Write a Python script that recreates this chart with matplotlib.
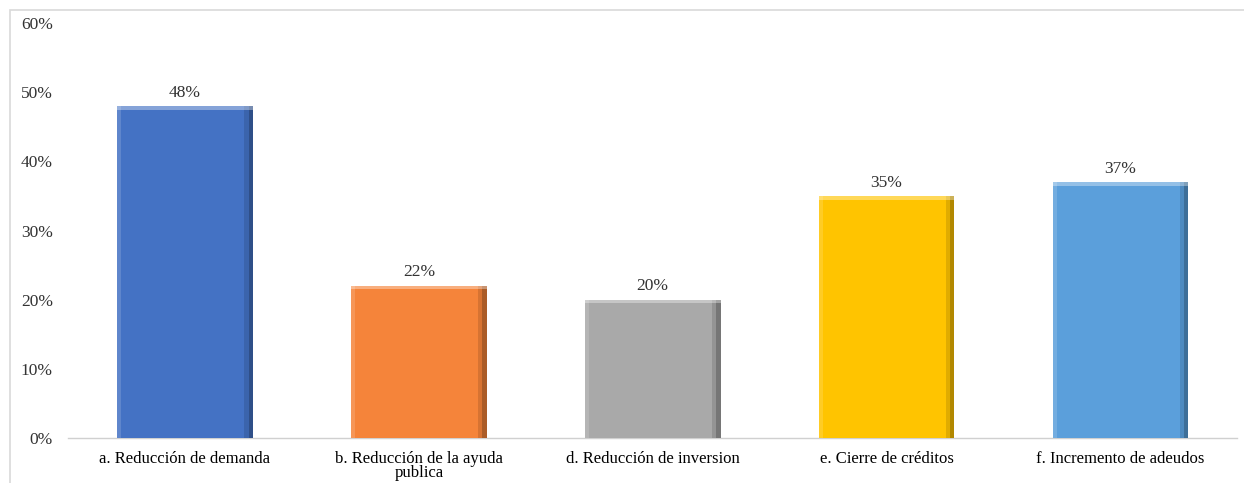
import matplotlib.pyplot as plt
from matplotlib.patches import Rectangle

categories = ['a. Reducción de demanda', 'b. Reducción de la ayuda\npublica',
              'd. Reducción de inversion', 'e. Cierre de créditos',
              'f. Incremento de adeudos']
values = [48, 22, 20, 35, 37]
colors = ['#4472C4', '#F5843A', '#A9A9A9', '#FFC400', '#5B9FDB']
yticks = [0, 10, 20, 30, 40, 50, 60]

plt.rcParams['font.family'] = ['Liberation Serif', 'DejaVu Serif']

fig = plt.figure(figsize=(12.44, 4.83), dpi=100)
ax = fig.add_axes([0.0547, 0.093, 0.94, 0.859])

x = list(range(len(categories)))
w = 0.58
ax.bar(x, values, width=w, color=colors, linewidth=0, zorder=3)

# bevel look: dark strip on the right, light strip on top
shade = 0.018
ax.bar([xi + w / 2 - shade / 2 for xi in x], values, width=shade,
       color='black', alpha=0.3, linewidth=0, zorder=4)
ax.bar([xi + w / 2 - shade * 1.5 for xi in x], values, width=shade,
       color='black', alpha=0.12, linewidth=0, zorder=4)
ax.bar(x, [0.5] * len(values), bottom=[v - 0.5 for v in values], width=w,
       color='white', alpha=0.35, linewidth=0, zorder=5)
ax.bar([xi - w / 2 + shade / 2 for xi in x], values, width=shade,
       color='white', alpha=0.15, linewidth=0, zorder=4)

for xi, v in zip(x, values):
    ax.text(xi, v + 0.8, f'{v}%', ha='center', va='bottom', fontsize=12.5,
            color='#333333')

ax.set_xlim(-0.5, len(categories) - 0.5)
ax.set_ylim(0, 60)
ax.set_yticks(yticks)
ax.set_yticklabels([f'{t}%' for t in yticks], fontsize=12.5, color='#333333')
ax.set_xticks(x)
ax.set_xticklabels(categories, fontsize=12, color='black', linespacing=0.9)
ax.tick_params(axis='x', length=0, pad=9)
ax.tick_params(axis='y', length=0, pad=11)

for s in ['top', 'right', 'left']:
    ax.spines[s].set_visible(False)
ax.spines['bottom'].set_color('#d0d0d0')
ax.spines['bottom'].set_linewidth(1)

# outer chart border
fig.patches.append(Rectangle((10 / 1244, -0.1), 1.2, 1 - 10 / 483 + 0.1,
                             transform=fig.transFigure, fill=False,
                             edgecolor='#d9d9d9', linewidth=1.2))

plt.savefig('out.png', dpi=100)
